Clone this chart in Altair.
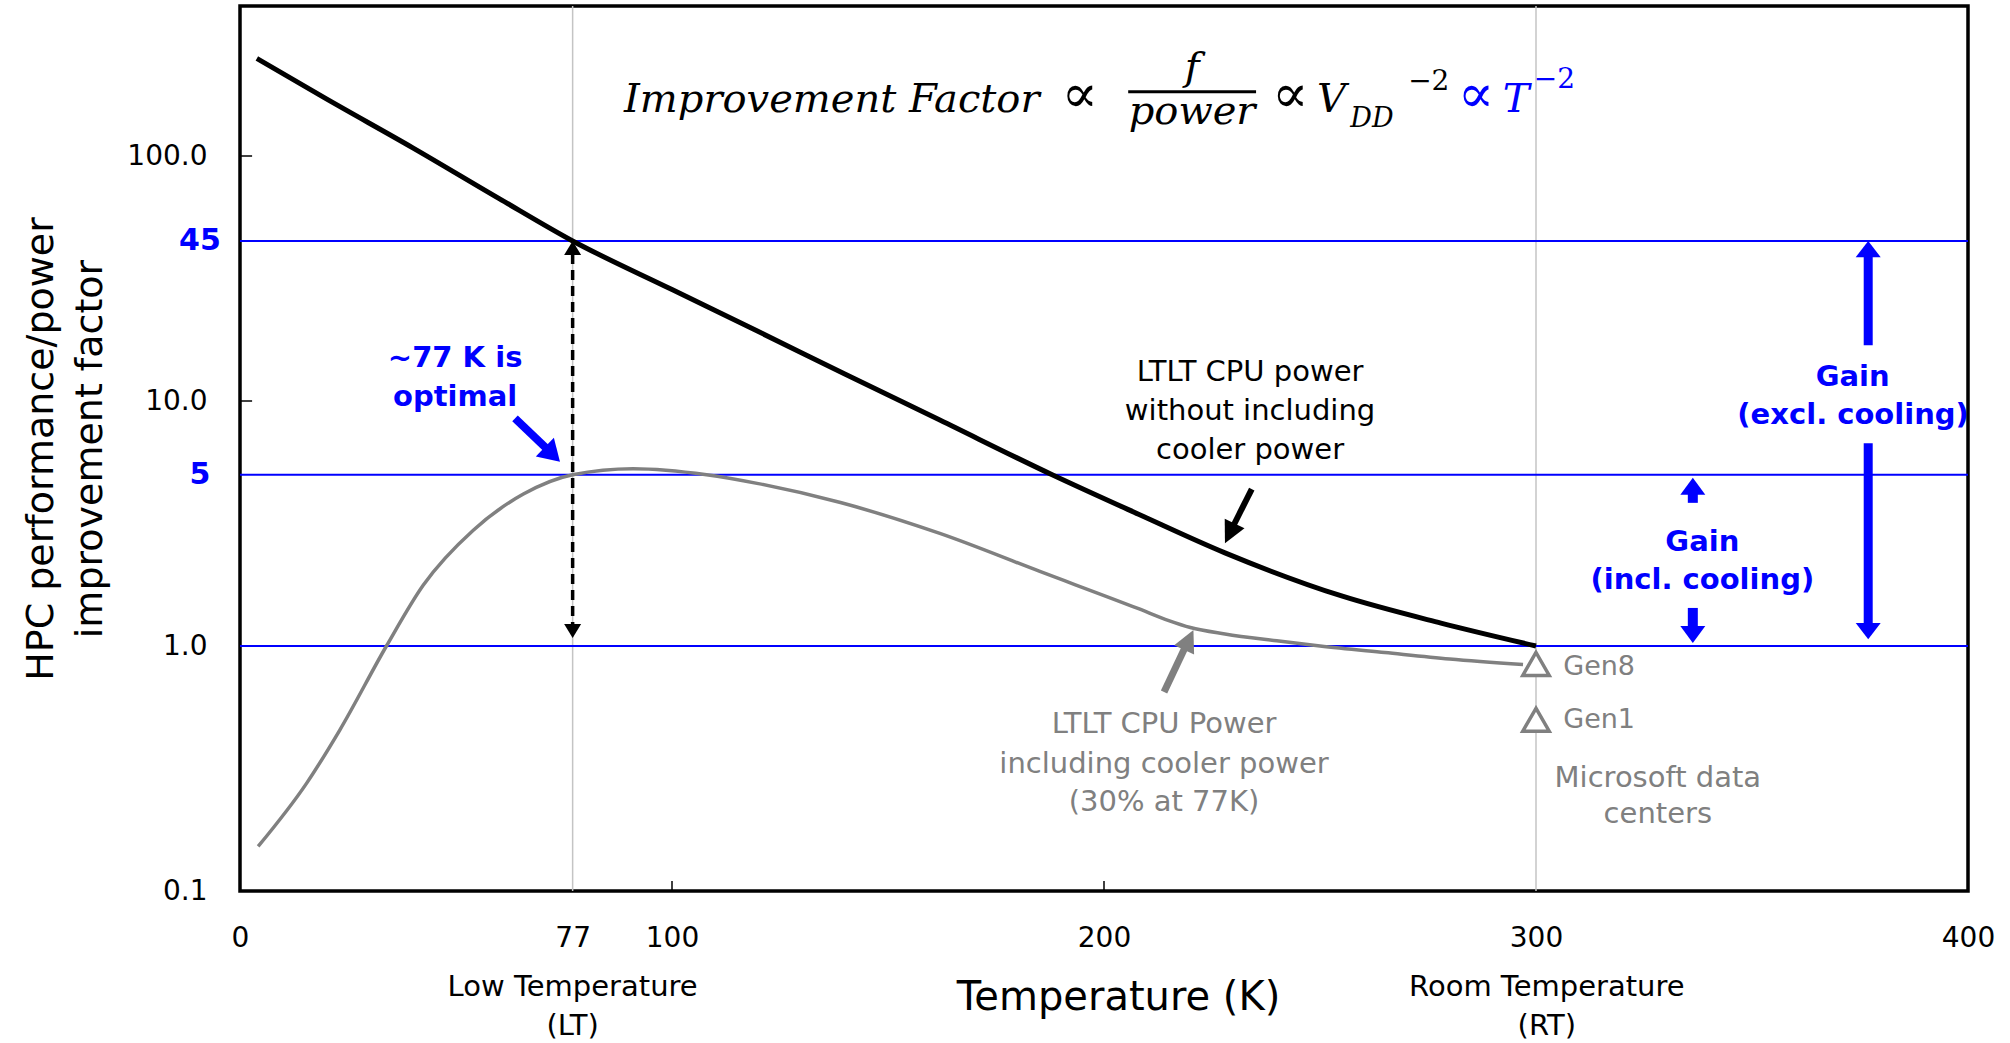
import altair as alt
import pandas as pd

# ---------------- values ----------------
temp_black = [3.9, 20, 40, 60, 77, 100, 120, 140, 162, 188, 208, 228, 255, 278, 300]
gain_black = [250, 171, 108, 67, 45, 28.5, 19.2, 12.9, 8.36, 5.0, 3.45, 2.40, 1.60, 1.24, 1.0]

temp_gray = [4.2, 15.4, 23.1, 33.9, 42.4, 54, 65.6, 77, 91, 108, 120, 139, 162, 185,
             208, 215, 220, 228, 240, 250, 265, 280, 297]
gain_gray = [0.152, 0.275, 0.454, 1.0, 1.77, 2.97, 4.17, 5.0, 5.29, 5.0, 4.6, 3.85, 2.88, 2.02,
             1.42, 1.27, 1.19, 1.12, 1.05, 1.0, 0.94, 0.885, 0.84]

dc_names = ["Gen8", "Gen1"]
dc_temp = [300, 300]
dc_gain = [0.845, 0.5]

level_values = [45, 5, 1]          # blue reference levels
marker_temps = [77, 300]           # LT and RT reference temperatures
x_tick_values = [0, 77, 100, 200, 300, 400]
y_tick_values = [0.1, 1, 10, 100]

X_DOMAIN = [0, 400]
Y_DOMAIN = [0.1, 409.5]

FONT = "DejaVu Sans"
SERIF = "DejaVu Serif"
BLUE = "#0000ff"
GRAY = "#808080"

# ---------------- shared encodings ----------------
x_axis = alt.Axis(
    values=x_tick_values, format="d", title="Temperature (K)",
    labelFont=FONT, labelFontSize=28, labelColor="black", labelPadding=33,
    labelFlush=False, labelOverlap=False, ticks=False, domain=False, grid=False,
    titleFont=FONT, titleFontSize=40, titleFontWeight="normal", titleColor="black",
    titleX=878, titleY=106, titleAngle=0, titleAlign="center", titleBaseline="middle",
)
y_axis = alt.Axis(
    values=y_tick_values, labelExpr="format(datum.value, '.1f')",
    title=["HPC performance/power", "improvement factor"],
    labelFont=FONT, labelFontSize=28, labelColor="black", labelPadding=33,
    labelFlush=False, labelOverlap=False, ticks=False, domain=False, grid=False,
    titleFont=FONT, titleFontSize=38, titleFontWeight="normal", titleColor="black",
    titleX=-199, titleY=442.5, titleAngle=270, titleAlign="center", titleBaseline="middle",
    titleLineHeight=49,
)
x_scale = alt.Scale(domain=X_DOMAIN, nice=False, zero=False)
y_scale = alt.Scale(type="log", domain=Y_DOMAIN, nice=False)


def xe(field="T"):
    return alt.X(f"{field}:Q", scale=x_scale, axis=x_axis)


def ye(field="V"):
    return alt.Y(f"{field}:Q", scale=y_scale, axis=y_axis)


layers = []

# reference lines
layers.append(alt.Chart(pd.DataFrame({"T": marker_temps}))
              .mark_rule(color="#c4c4c4", strokeWidth=1.5).encode(x=xe()))
layers.append(alt.Chart(pd.DataFrame({"V": level_values}))
              .mark_rule(color=BLUE, strokeWidth=2).encode(y=ye()))

# inward tick marks
ticks_df = pd.DataFrame({
    "T": [0, 0, 100, 200], "T2": [2.8, 2.8, 100, 200],
    "V": [100, 10, 0.1, 0.1], "V2": [100, 10, 0.1098, 0.1098],
})
layers.append(alt.Chart(ticks_df).mark_rule(color="black", strokeWidth=1.5)
              .encode(x=xe(), x2="T2:Q", y=ye(), y2="V2:Q"))

# curves
layers.append(alt.Chart(pd.DataFrame({"T": temp_gray, "V": gain_gray}))
              .mark_line(color=GRAY, strokeWidth=3.5, interpolate="monotone")
              .encode(x=xe(), y=ye()))
layers.append(alt.Chart(pd.DataFrame({"T": temp_black, "V": gain_black}))
              .mark_line(color="black", strokeWidth=5, interpolate="monotone")
              .encode(x=xe(), y=ye()))

# arrow shafts
shafts = pd.DataFrame({
    "T":  [63.66, 234.2, 213.9, 376.9, 376.9, 336.3, 336.3],
    "V":  [8.50, 4.37, 0.649, 40.2, 6.72, 4.42, 1.43],
    "T2": [70.93, 230.0, 218.7, 376.9, 376.9, 336.3, 336.3],
    "V2": [6.41, 3.11, 0.981, 16.9, 1.218, 3.84, 1.184],
    "c":  [BLUE, "black", GRAY, BLUE, BLUE, BLUE, BLUE],
    "w":  [8, 6, 7, 9, 9, 10, 10],
})
layers.append(alt.Chart(shafts).mark_rule(strokeCap="butt")
              .encode(x=xe(), x2="T2:Q", y=ye(), y2="V2:Q",
                      color=alt.Color("c:N", scale=None),
                      strokeWidth=alt.StrokeWidth("w:Q", scale=None)))

# dashed double arrow at 77 K
layers.append(alt.Chart(pd.DataFrame({"T": [77], "V": [39.8], "V2": [1.23]}))
              .mark_rule(color="black", strokeWidth=3.5, strokeDash=[10, 6])
              .encode(x=xe(), y=ye(), y2="V2:Q"))


def head(k):
    return f"M0,0L-1,{k}L1,{k}Z"


heads = pd.DataFrame({
    "T": [74.07, 228.0, 220.7, 77, 77, 376.9, 376.9, 336.3, 336.3],
    "V": [5.65, 2.626, 1.162, 45, 1.078, 45, 1.065, 4.86, 1.029],
    "angle": [134, 206, 25, 0, 180, 0, 180, 0, 180],
    "size": [676, 484, 484, 289, 289, 625, 625, 625, 625],
    "shape": [head(1.62), head(2.0), head(2.0), head(1.65), head(1.65),
              head(1.3), head(1.3), head(1.36), head(1.36)],
    "c": [BLUE, "black", GRAY, "black", "black", BLUE, BLUE, BLUE, BLUE],
})
layers.append(alt.Chart(heads).mark_point(filled=True, opacity=1, strokeWidth=0)
              .encode(x=xe(), y=ye(),
                      shape=alt.Shape("shape:N", scale=None),
                      angle=alt.Angle("angle:Q", scale=None),
                      size=alt.Size("size:Q", scale=None),
                      color=alt.Color("c:N", scale=None)))

# Microsoft data-center markers
layers.append(alt.Chart(pd.DataFrame({"T": dc_temp, "V": dc_gain}))
              .mark_point(shape="triangle-up", size=700, filled=True, fill="white",
                          stroke=GRAY, strokeWidth=3.5, opacity=1)
              .encode(x=xe(), y=ye()))


def text_layer(rows, font=FONT, size=29, weight="normal", style="normal",
               align="center", baseline="middle"):
    df = pd.DataFrame(rows, columns=["s", "T", "V", "c"])
    return (alt.Chart(df)
            .mark_text(font=font, fontSize=size, fontWeight=weight, fontStyle=style,
                       align=align, baseline=baseline)
            .encode(x=xe(), y=ye(), text="s:N", color=alt.Color("c:N", scale=None)))


layers.append(text_layer([
    ("LTLT CPU power", 233.8, 13.1, "black"),
    ("without including", 233.8, 9.10, "black"),
    ("cooler power", 233.8, 6.31, "black"),
    ("Low Temperature", 77, 0.0406, "black"),
    ("(LT)", 77, 0.0281, "black"),
    ("Room Temperature", 302.5, 0.0406, "black"),
    ("(RT)", 302.5, 0.0281, "black"),
    ("LTLT CPU Power", 213.9, 0.481, GRAY),
    ("including cooler power", 213.9, 0.330, GRAY),
    ("(30% at 77K)", 213.9, 0.231, GRAY),
    ("Microsoft data", 328.2, 0.289, GRAY),
    ("centers", 328.2, 0.206, GRAY),
]))
layers.append(text_layer([
    ("Gen8", 306.3, 0.82, GRAY),
    ("Gen1", 306.3, 0.5, GRAY),
], size=27, align="left"))
layers.append(text_layer([
    ("~77 K is", 49.8, 15.0, BLUE),
    ("optimal", 49.8, 10.4, BLUE),
    ("Gain", 373.3, 12.5, BLUE),
    ("(excl. cooling)", 373.4, 8.77, BLUE),
    ("Gain", 338.5, 2.66, BLUE),
    ("(incl. cooling)", 338.5, 1.86, BLUE),
], weight="bold"))
layers.append(text_layer([
    ("45", -9.26, 45, BLUE),
    ("5", -9.26, 5, BLUE),
], size=30, weight="bold"))

# formula
layers.append(text_layer([
    ("Improvement Factor", 88.9, 151.2, "black"),
    ("V", 249.3, 151.2, "black"),
    ("T", 292.3, 151.2, BLUE),
], font=SERIF, size=40, style="italic", align="left", baseline="alphabetic"))
layers.append(text_layer([
    ("f", 220.4, 204.2, "black"),
    ("power", 220.4, 135.1, "black"),
], font=SERIF, size=40, style="italic", align="center", baseline="alphabetic"))
layers.append(text_layer([
    ("\u221d", 194.4, 151.2, "black"),
    ("\u221d", 243.1, 151.2, "black"),
    ("\u221d", 286.1, 151.2, BLUE),
], font=SERIF, size=54, align="center", baseline="alphabetic"))
layers.append(text_layer([
    ("DD", 257.0, 131.3, "black"),
], font=SERIF, size=27, style="italic", align="left", baseline="alphabetic"))
layers.append(text_layer([
    ("\u22122", 270.4, 185.9, "black"),
    ("\u22122", 299.5, 189.5, BLUE),
], font=SERIF, size=28, align="left", baseline="alphabetic"))
layers.append(alt.Chart(pd.DataFrame({"T": [205.6], "T2": [235.2], "V": [183.0]}))
              .mark_rule(color="black", strokeWidth=3)
              .encode(x=xe(), x2="T2:Q", y=ye()))

chart = (alt.layer(*layers)
         .properties(width=1728, height=885,
                     autosize=alt.AutoSizeParams(type="none"),
                     padding={"left": 240, "top": 6, "right": 42, "bottom": 152},
                     background="white")
         .configure_view(stroke="black", strokeWidth=3.5))

chart.save("out.html", embed_options={"renderer": "svg", "actions": False})
